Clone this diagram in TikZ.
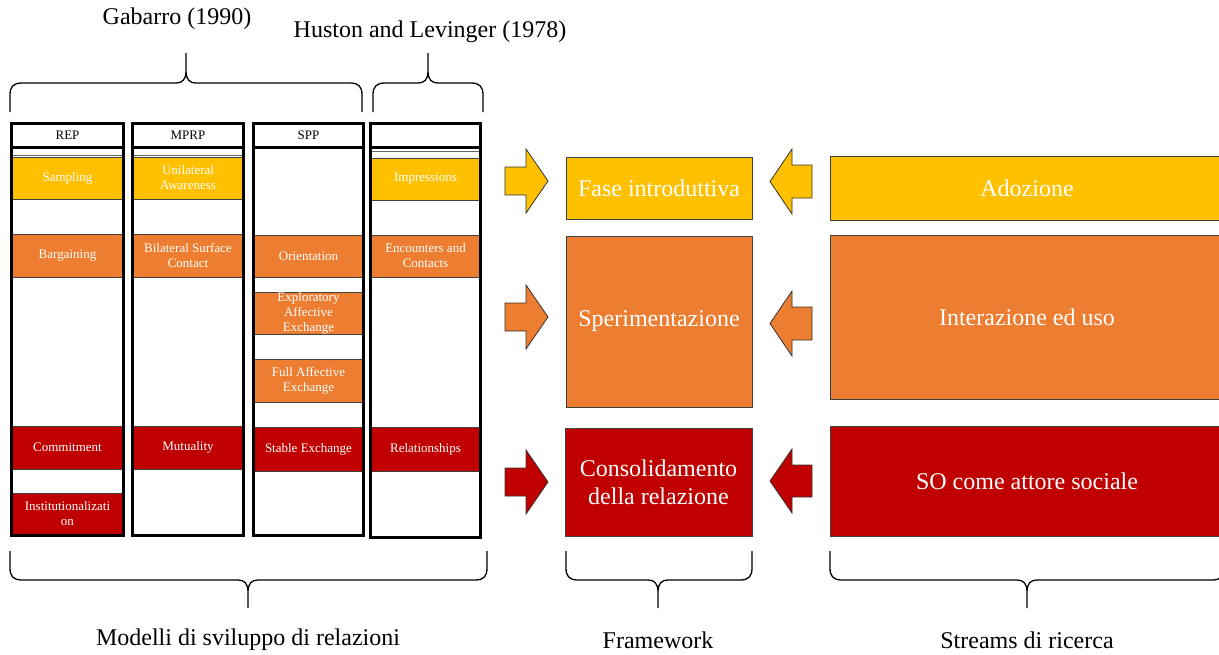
\documentclass[tikz,border=0pt]{standalone}
\usepackage{fontspec}
\setmainfont{Liberation Serif}
\definecolor{cy}{HTML}{FFC000}
\definecolor{co}{HTML}{ED7D31}
\definecolor{cr}{HTML}{C00000}
\newcommand\mybrace[7]{%
 \draw[bracestyle] (#1,#4) -- (#1,{#5+12*#7}) .. controls (#1,{#5+4*#7}) and ({#1+3},#5) .. ({#1+12},#5) -- ({#3-10},#5) .. controls ({#3-4},#5) and (#3,{#5-3*#7}) .. (#3,{#5-12*#7}) -- (#3,#6)
   (#3,{#5-12*#7}) .. controls (#3,{#5-3*#7}) and ({#3+4},#5) .. ({#3+10},#5) -- ({#2-12},#5) .. controls ({#2-3},#5) and (#2,{#5+4*#7}) .. (#2,{#5+12*#7}) -- (#2,#4);}
\begin{document}
\begin{tikzpicture}[x=1pt,y=-1pt,
  cellfont/.style={font=\fontsize{13}{15}\selectfont},
  cell/.style={draw=black!75, line width=0.8pt, inner sep=0pt, text=white, cellfont, align=center},
  colbox/.style={draw=black, line width=3pt, inner sep=0pt, cellfont, text=black},
  fw/.style={draw=black!75, line width=1pt, text=white, font=\fontsize{24}{28}\selectfont, align=center, inner sep=0pt},
  arr/.style={draw=black!80, line width=0.8pt, line join=miter},
  bracestyle/.style={draw=black, line width=1.3pt},
  lab/.style={font=\fontsize{24}{28}\selectfont, text=black, inner sep=0pt},
  thinrow/.style={draw=black!60, line width=0.6pt}
]
\useasboundingbox (0,0) rectangle (1219,654);

% ---- cells REP
\node[cell, fill=cy, minimum width=112pt, minimum height=42pt] (sampling) at (67.5,178) {Sampling};
\node[cell, fill=co, minimum width=112pt, minimum height=43pt] (bargaining) at (67.5,255.5) {Bargaining};
\node[cell, fill=cr, minimum width=112pt, minimum height=43pt] (commitment) at (67.5,447.5) {Commitment};
\node[cell, fill=cr, minimum width=112pt, minimum height=42pt] (institution) at (67.5,514) {Institutionalizati\\on};
% ---- cells MPRP
\node[cell, fill=cy, minimum width=111pt, minimum height=42pt] (unilateral) at (188,178) {Unilateral\\Awareness};
\node[cell, fill=co, minimum width=111pt, minimum height=43pt] (bilateral) at (188,255.5) {Bilateral Surface\\Contact};
\node[cell, fill=cr, minimum width=111pt, minimum height=43pt] (mutuality) at (188,447.5) {Mutuality};
% ---- cells SPP
\node[cell, fill=co, minimum width=110pt, minimum height=42pt] (orientation) at (308.5,256) {Orientation};
\node[cell, fill=co, minimum width=110pt, minimum height=42pt] (exploratory) at (308.5,313) {Exploratory\\Affective\\Exchange};
\node[cell, fill=co, minimum width=110pt, minimum height=43pt] (fullaff) at (308.5,380.5) {Full Affective\\Exchange};
\node[cell, fill=cr, minimum width=110pt, minimum height=44pt] (stable) at (308.5,449) {Stable Exchange};
% ---- cells HL
\node[cell, fill=cy, minimum width=110pt, minimum height=42pt] (impressions) at (425.5,179) {Impressions};
\node[cell, fill=co, minimum width=110pt, minimum height=42pt] (encounters) at (425.5,256) {Encounters and\\Contacts};
\node[cell, fill=cr, minimum width=110pt, minimum height=44pt] (relationships) at (425.5,449) {Relationships};

% thin row lines under headers
\draw[thinrow] (11.5,155) -- (123.5,155);
\draw[thinrow] (132.5,155) -- (243.5,155);
\draw[thinrow] (370.5,151) -- (480.5,151);

% ---- column frames
\node[colbox, minimum width=112pt, minimum height=23.5pt] (hrep) at (67.5,135.25) {REP};
\node[colbox, minimum width=112pt, minimum height=388.5pt] (brep) at (67.5,341.25) {};
\node[colbox, minimum width=111pt, minimum height=23.5pt] (hmprp) at (188,135.25) {MPRP};
\node[colbox, minimum width=111pt, minimum height=388.5pt] (bmprp) at (188,341.25) {};
\node[colbox, minimum width=110pt, minimum height=23.5pt] (hspp) at (308.5,135.25) {SPP};
\node[colbox, minimum width=110pt, minimum height=388.5pt] (bspp) at (308.5,341.25) {};
\node[colbox, minimum width=110pt, minimum height=23.5pt] (hhl) at (425.5,135.25) {};
\node[colbox, minimum width=110pt, minimum height=390pt] (bhl) at (425.5,342) {};

% ---- framework
\node[fw, fill=cy, minimum width=186pt, minimum height=62pt] (fase) at (659,188) {Fase introduttiva};
\node[fw, fill=co, minimum width=186pt, minimum height=171pt] (sper) at (659,321.5) {Sperimentazione};
\node[fw, fill=cr, minimum width=187pt, minimum height=108pt] (cons) at (658.5,482) {Consolidamento\\della relazione};

% ---- streams
\node[fw, fill=cy, minimum width=394pt, minimum height=64pt] (adoz) at (1027,188) {Adozione};
\node[fw, fill=co, minimum width=394pt, minimum height=164pt] (inter) at (1027,317) {Interazione ed uso};
\node[fw, fill=cr, minimum width=394pt, minimum height=110pt] (socs) at (1027,481) {SO come attore sociale};

% ---- block arrows (right)
\draw[arr, fill=cy] (505,167) -- (526,167) -- (526,149) -- (548,181) -- (526,213) -- (526,195) -- (505,195) -- cycle;
\draw[arr, fill=co] (505,303) -- (526,303) -- (526,285) -- (548,317) -- (526,349) -- (526,331) -- (505,331) -- cycle;
\draw[arr, fill=cr] (505,468) -- (526,468) -- (526,450) -- (548,482) -- (526,514) -- (526,496) -- (505,496) -- cycle;
% ---- block arrows (left)
\draw[arr, fill=cy] (812,165) -- (792,165) -- (792,149) -- (770,181.5) -- (792,214) -- (792,198) -- (812,198) -- cycle;
\draw[arr, fill=co] (812,307) -- (792,307) -- (792,291) -- (770,323.5) -- (792,356) -- (792,340) -- (812,340) -- cycle;
\draw[arr, fill=cr] (812,465) -- (792,465) -- (792,449) -- (770,481) -- (792,513) -- (792,497) -- (812,497) -- cycle;

% ---- braces
\mybrace{10}{362}{186}{112}{83}{53}{1}
\mybrace{373}{483}{428}{112}{83}{53}{1}
\mybrace{10}{487}{248}{551}{580}{608}{(-1)}
\mybrace{566}{752}{658}{551}{580}{608}{(-1)}
\mybrace{830}{1224}{1027}{551}{580}{608}{(-1)}

% ---- labels
\node[lab] (gab) at (177,19) {Gabarro (1990)};
\node[lab] (hus) at (430,32) {Huston and Levinger (1978)};
\node[lab] (mod) at (248,640) {Modelli di sviluppo di relazioni};
\node[lab] (frw) at (658,640) {Framework};
\node[lab] (str) at (1027,640) {Streams di ricerca};
\end{tikzpicture}
\end{document}
